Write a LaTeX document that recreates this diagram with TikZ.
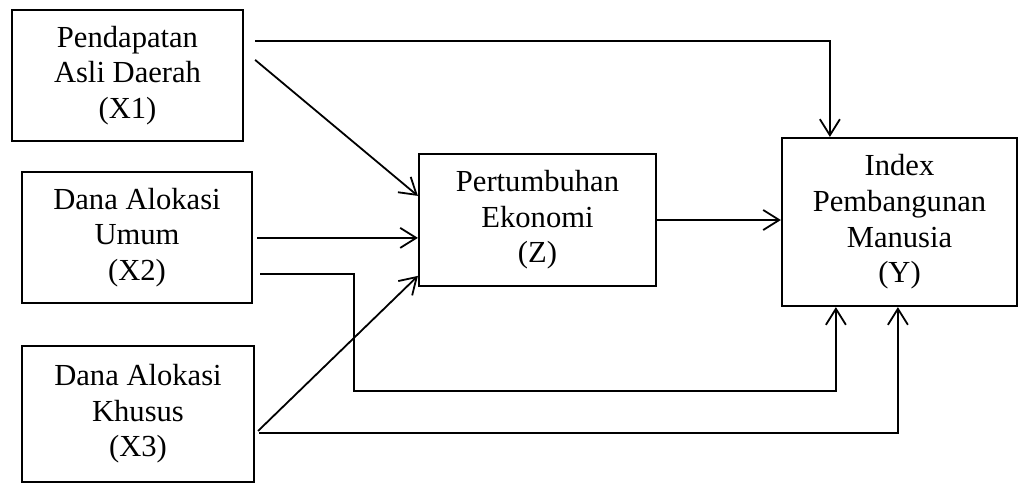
\documentclass[tikz,border=0pt]{standalone}
\usepackage{fontspec}
\setmainfont{Liberation Serif}
\usetikzlibrary{arrows.meta,calc}
\begin{document}
\begin{tikzpicture}[x=0.5pt,y=-0.5pt,
  box/.style={draw,line width=1.1pt,inner sep=0pt,align=center,
    font=\fontsize{15.3}{17.8}\selectfont},
  arr/.style={line width=0.9pt,-{Straight Barb[length=8pt,width=10pt,line width=0.9pt]}}]
\useasboundingbox (0,0) rectangle (1018,483);
\node[box,minimum width=115.5pt,minimum height=65.5pt] (x1) at (127.5,75.5) {Pendapatan\\Asli Daerah\\(X1)};
\node[box,minimum width=115pt,minimum height=65.5pt] (x2) at (137,237.5) {Dana Alokasi\\Umum\\(X2)};
\node[box,minimum width=116pt,minimum height=68pt] (x3) at (138,414) {Dana Alokasi\\Khusus\\(X3)};
\node[box,minimum width=118.5pt,minimum height=66pt] (z) at (537.5,220) {Pertumbuhan\\Ekonomi\\(Z)};
\node[box,minimum width=117.5pt,minimum height=84pt] (y) at (899.5,222) {Index\\Pembangunan\\Manusia\\(Y)};
% X1 -> Y
\draw[arr] ($(x1.north east)+(11,32)$) -| ($(y.north west)+(49,0)$);
% X1 -> Z
\draw[arr] ($(x1.north east)+(11,51)$) -- ($(z.north west)+(0,43)$);
% X2 -> Z
\draw[arr] ($(x2.north east)+(4,67)$) -- ($(z.north west)+(0,85)$);
% X2 -> Y
\draw[arr] ($(x2.north east)+(7,103)$) -- ($(x2.north east)+(101,103)$) |- ($(y.south west)+(55,84)$) -- ($(y.south west)+(55,0)$);
% X3 -> Z
\draw[arr] ($(x3.north east)+(3,86)$) -- ($(z.north west)+(0,123)$);
% X3 -> Y
\draw[arr] ($(x3.north east)+(4,88)$) -| ($(y.south west)+(117,0)$);
% Z -> Y
\draw[arr] (z.east) -- (z.east -| y.west);
\end{tikzpicture}
\end{document}
